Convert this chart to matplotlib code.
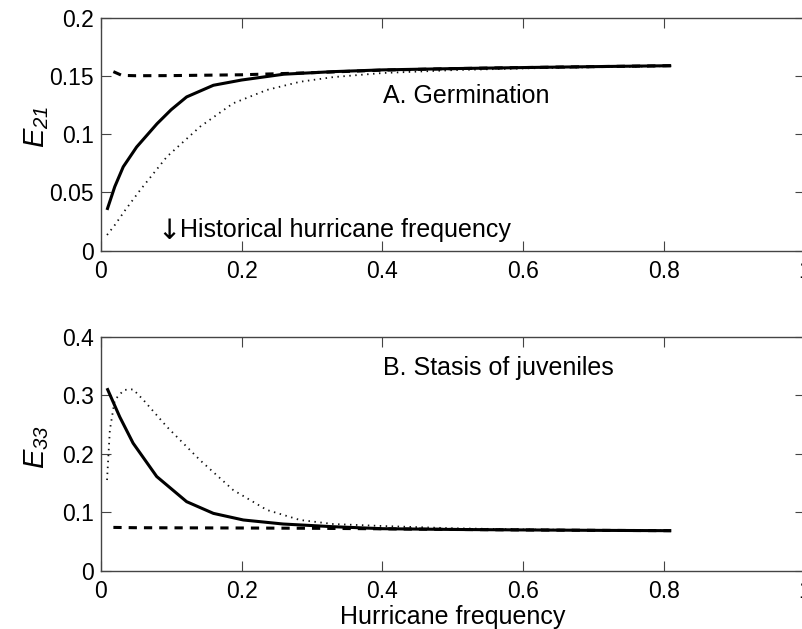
import matplotlib
matplotlib.use('Agg')
import matplotlib.pyplot as plt

plt.rcParams['font.family'] = ['Liberation Sans', 'DejaVu Sans']
plt.rcParams['mathtext.fontset'] = 'custom'
plt.rcParams['mathtext.it'] = 'Liberation Sans:italic'
plt.rcParams['mathtext.rm'] = 'Liberation Sans:italic'
plt.rcParams['mathtext.default'] = 'it'

# ---------------- Panel A: Germination (E21) ----------------
a_solid_x = [0.009, 0.02, 0.032, 0.051, 0.08, 0.10, 0.122, 0.16, 0.2, 0.26, 0.33, 0.4, 0.5, 0.6, 0.7, 0.81]
a_solid_y = [0.035, 0.055, 0.072, 0.089, 0.109, 0.121, 0.132, 0.142, 0.1465, 0.1515, 0.1537, 0.1552, 0.1563, 0.1572, 0.158, 0.1588]

a_dash_x = [0.018, 0.03, 0.05, 0.1, 0.2, 0.3, 0.4, 0.5, 0.6, 0.7, 0.81]
a_dash_y = [0.1537, 0.1505, 0.1502, 0.1503, 0.151, 0.1528, 0.1550, 0.1563, 0.1572, 0.158, 0.1588]

a_dot_x = [0.009, 0.02, 0.035, 0.056, 0.094, 0.141, 0.188, 0.236, 0.283, 0.33, 0.4, 0.5, 0.6, 0.7, 0.81]
a_dot_y = [0.0135, 0.022, 0.035, 0.052, 0.0807, 0.1064, 0.1265, 0.138, 0.145, 0.149, 0.1525, 0.155, 0.1565, 0.1575, 0.1585]

# ---------------- Panel B: Stasis of juveniles (E33) ----------------
b_solid_x = [0.009, 0.027, 0.046, 0.0795, 0.122, 0.16, 0.2025, 0.259, 0.33, 0.4, 0.5, 0.6, 0.7, 0.81]
b_solid_y = [0.312, 0.263, 0.218, 0.161, 0.118, 0.098, 0.0867, 0.0798, 0.0752, 0.0718, 0.0705, 0.0697, 0.069, 0.0684]

b_dash_x = [0.018, 0.05, 0.1, 0.2, 0.3, 0.4, 0.5, 0.6, 0.7, 0.81]
b_dash_y = [0.074, 0.0735, 0.0733, 0.073, 0.0725, 0.0716, 0.0705, 0.0697, 0.069, 0.0684]

b_dot_x = [0.009, 0.013, 0.02, 0.033, 0.046, 0.0605, 0.094, 0.141, 0.188, 0.236, 0.283, 0.33, 0.4, 0.5, 0.6, 0.7, 0.81]
b_dot_y = [0.155, 0.2405, 0.292, 0.309, 0.310, 0.292, 0.246, 0.189, 0.138, 0.1038, 0.0867, 0.0798, 0.0764, 0.0725, 0.0705, 0.0695, 0.0686]

x_ticks = [0, 0.2, 0.4, 0.6, 0.8, 1]
x_ticklabels = ['0', '0.2', '0.4', '0.6', '0.8', '1']
a_yticks = [0, 0.05, 0.1, 0.15, 0.2]
a_yticklabels = ['0', '0.05', '0.1', '0.15', '0.2']
b_yticks = [0, 0.1, 0.2, 0.3, 0.4]
b_yticklabels = ['0', '0.1', '0.2', '0.3', '0.4']

TICK_FS = 16.5
TEXT_FS = 18
W, H = 802, 629
fig = plt.figure(figsize=(W / 100, H / 100), dpi=100)

left = 100.7 / W
width = (805 - 100.7) / W
axA = fig.add_axes([left, 1 - 250.7 / H, width, (250.7 - 17.7) / H])
axB = fig.add_axes([left, 1 - 570.7 / H, width, (570.7 - 336.7) / H])


def style(ax, yticks, yticklabels, ylim, label):
    ax.set_xlim(0, 1)
    ax.set_ylim(*ylim)
    ax.set_xticks(x_ticks)
    ax.set_xticklabels(x_ticklabels)
    ax.set_yticks(yticks)
    ax.set_yticklabels(yticklabels)
    ax.tick_params(direction='in', length=7, width=0.8, color='#444444',
                   top=True, right=True, labelsize=TICK_FS)
    ax.tick_params(axis='x', pad=7)
    ax.tick_params(axis='y', pad=5)
    for s in ax.spines.values():
        s.set_color('#444444')
        s.set_linewidth(1.0)
    ax.set_ylabel(label, fontsize=21)
    ax.yaxis.set_label_coords(-0.071, 0.53)


def draw(ax, sx, sy, dx, dy, ox, oy):
    ax.plot(ox, oy, color='#111111', lw=1.3, linestyle=(0, (0.8, 2.5)))
    ax.plot(dx, dy, color='black', lw=2.2, linestyle=(0, (2.7, 2.3)))
    ax.plot(sx, sy, color='black', lw=2.2, solid_capstyle='butt')


draw(axA, a_solid_x, a_solid_y, a_dash_x, a_dash_y, a_dot_x, a_dot_y)
draw(axB, b_solid_x, b_solid_y, b_dash_x, b_dash_y, b_dot_x, b_dot_y)

style(axA, a_yticks, a_yticklabels, (0, 0.2), r'$E_{21}$')
style(axB, b_yticks, b_yticklabels, (0, 0.4), r'$E_{33}$')

axA.text(0.401, 0.127, 'A. Germination', fontsize=TEXT_FS, ha='left', va='baseline')
axA.text(0.081, 0.010, '\u2193', fontsize=TEXT_FS + 2, family=['DejaVu Sans'],
         ha='left', va='baseline')
axA.text(0.112, 0.012, 'Historical hurricane frequency', fontsize=TEXT_FS,
         ha='left', va='baseline')
axB.text(0.401, 0.3345, 'B. Stasis of juveniles', fontsize=TEXT_FS, ha='left', va='baseline')

axB.set_xlabel('Hurricane frequency', fontsize=TEXT_FS, labelpad=1)

fig.savefig('out.png', dpi=100)
